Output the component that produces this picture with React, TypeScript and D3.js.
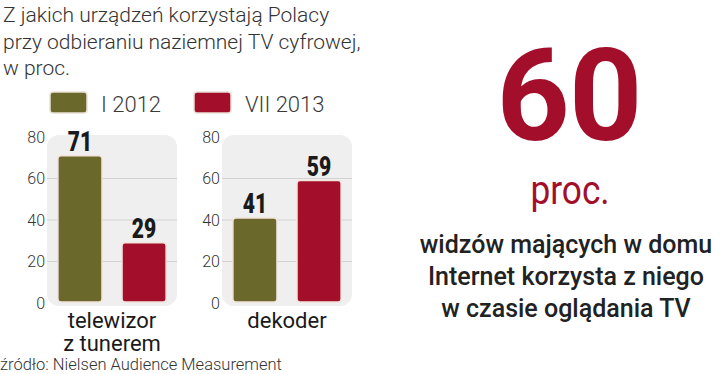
import React from 'react';
import * as d3 from 'd3';

const titleLines = ['Z jakich urządzeń korzystają Polacy', 'przy odbieraniu naziemnej TV cyfrowej,', 'w proc.'];
const seriesNames = ['I 2012', 'VII 2013'];
const seriesColors = ['#6a692b', '#a30f2b'];
const categories = ['telewizor z tunerem', 'dekoder'];
const categoryLines = [['telewizor', 'z tunerem'], ['dekoder']];
const values2012 = [71, 41];
const values2013 = [29, 59];
const yTicks = [0, 20, 40, 60, 80];
const bigNumber = '60';
const bigUnit = 'proc.';
const sideLines = ['widzów mających w domu', 'Internet korzysta z niego', 'w czasie oglądania TV'];
const sourceText = 'źródło: Nielsen Audience Measurement';

const W = 720;
const H = 374;
const font = "Roboto, 'DejaVu Sans', sans-serif";

// squeeze a text horizontally around its anchor point
const squeeze = (x: number, y: number, k: number) => `translate(${x},${y}) scale(${k},1)`;

export default function App() {
  const y = d3.scaleLinear().domain([0, 80]).range([303, 137]);
  const groupX = d3.scaleBand<string>().domain(categories).range([47, 352]).paddingInner(0.257);
  const barX = d3.scaleBand<string>().domain(seriesNames).range([0, groupX.bandwidth()]).paddingInner(0.3125).paddingOuter(0.17);
  const series = [values2012, values2013];

  return (
    <svg width={W} height={H} style={{ position: 'absolute', left: 0, top: 0 }}>
      <rect width={W} height={H} fill="#fff" />
      {titleLines.map((t, i) => (
        <text key={i} x={3} y={22 + i * 26.5} fontFamily={font} fontWeight={300} fontSize={21} fill="#333">{t}</text>
      ))}

      {/* legend */}
      {seriesNames.map((s, i) => {
        const lx = i === 0 ? 50 : 194;
        return (
          <g key={s}>
            <rect x={lx} y={92} width={37} height={21} rx={3} fill={seriesColors[i]} stroke="#eadfd6" strokeWidth={1.5} />
            <text x={lx + 51} y={112} fontFamily={font} fontWeight={300} fontSize={22} fill="#3a3a3a">{s}</text>
          </g>
        );
      })}

      {categories.map((c, ci) => {
        const gx = groupX(c)!;
        const bw = groupX.bandwidth();
        return (
          <g key={c}>
            <rect x={gx} y={y(80) - 2} width={bw} height={y(0) - y(80) + 5} rx={12} fill="#efefef" />
            {yTicks.filter(t => t > 0 && t < 80).map(t => (
              <line key={t} x1={gx} x2={gx + bw} y1={y(t)} y2={y(t)} stroke="#d2d2d2" strokeWidth={1} />
            ))}
            {yTicks.map(t => (
              <text key={t} x={gx - 2} y={y(t)} dy="0.36em" textAnchor="end" fontFamily={font} fontWeight={300} fontSize={16} fill="#333">{t}</text>
            ))}
            {seriesNames.map((s, si) => {
              const v = series[si][ci];
              const bx = gx + barX(s)!;
              return (
                <g key={s}>
                  <rect x={bx} y={y(v)} width={barX.bandwidth()} height={y(0) - y(v) - 1} rx={3} fill={seriesColors[si]} stroke="#f3e4dc" strokeWidth={1.5} />
                  <text transform={squeeze(bx + barX.bandwidth() / 2, y(v) - 5, 0.78)} textAnchor="middle" fontFamily={font} fontWeight={900} fontSize={27} fill="#1a1a1a">{v}</text>
                </g>
              );
            })}
            {categoryLines[ci].map((l, li) => (
              <text key={li} x={gx + bw / 2} y={328 + li * 23} textAnchor="middle" fontFamily={font} fontWeight={400} fontSize={22} fill="#1a1a1a">{l}</text>
            ))}
          </g>
        );
      })}

      <text x={0} y={370} fontFamily={font} fontWeight={300} fontSize={16.5} fill="#333">{sourceText}</text>

      {/* right block */}
      <text x={569} y={140} textAnchor="middle" fontFamily={font} fontWeight={700} fontSize={128} fill="#a30f2b" letterSpacing={-1}>{bigNumber}</text>
      <text transform={squeeze(570, 204, 0.86)} textAnchor="middle" fontFamily={font} fontWeight={400} fontSize={41} fill="#a30f2b">{bigUnit}</text>
      {sideLines.map((l, i) => (
        <text key={i} x={566} y={253 + i * 32} textAnchor="middle" fontFamily={font} fontWeight={500} fontSize={25} fill="#222">{l}</text>
      ))}
    </svg>
  );
}
